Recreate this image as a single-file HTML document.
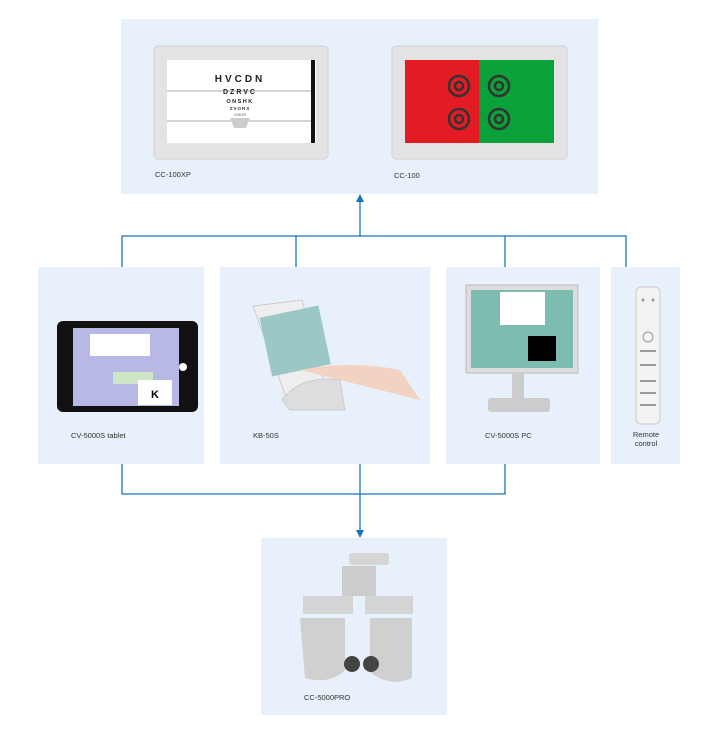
<!DOCTYPE html>
<html><head><meta charset="utf-8"><style>
html,body{margin:0;padding:0;background:#fff;width:719px;height:733px;overflow:hidden;position:relative;font-family:"Liberation Sans",sans-serif}
.b{position:absolute;background:#e8f1fb}
.t{position:absolute;font-size:7.5px;color:#333}
svg{position:absolute;left:0;top:0}
</style></head><body>
<div class="b" style="left:121px;top:19px;width:477px;height:175px"></div>
<div class="b" style="left:38px;top:267px;width:166px;height:197px"></div>
<div class="b" style="left:220px;top:267px;width:210px;height:197px"></div>
<div class="b" style="left:446px;top:267px;width:154px;height:197px"></div>
<div class="b" style="left:611px;top:267px;width:69px;height:197px"></div>
<div class="b" style="left:261px;top:538px;width:186px;height:177px"></div>

<svg width="719" height="733" viewBox="0 0 719 733">
<g stroke="#1a75bc" stroke-width="1.3" fill="none">
<path d="M122 267V236H626V267M296 236V267M505 236V267M360 236V200"/>
<path d="M122 464V494H505V464M360 464V531"/>
</g>
<path d="M356 202L360 194L364 202Z" fill="#1a75bc"/>
<path d="M356 530L360 538L364 530Z" fill="#1a75bc"/>

<rect x="154" y="46" width="174" height="113" rx="4" fill="#e3e3e3" stroke="#d0d0d0"/>
<rect x="167" y="60" width="149" height="83" fill="#fff"/>
<rect x="311" y="60" width="4" height="83" fill="#111"/>
<line x1="167" y1="91" x2="311" y2="91" stroke="#aaa"/><line x1="167" y1="121" x2="311" y2="121" stroke="#aaa"/>
<text x="240" y="82" font-size="10" font-weight="bold" text-anchor="middle" letter-spacing="3" fill="#222" font-family="Liberation Sans">HVCDN</text>
<text x="240" y="94" font-size="7" font-weight="bold" text-anchor="middle" letter-spacing="2" fill="#222" font-family="Liberation Sans">DZRVC</text>
<text x="240" y="103" font-size="5.5" font-weight="bold" text-anchor="middle" letter-spacing="1.5" fill="#222" font-family="Liberation Sans">ONSHK</text>
<text x="240" y="110" font-size="4.5" font-weight="bold" text-anchor="middle" letter-spacing="1" fill="#333" font-family="Liberation Sans">ZVORS</text>
<text x="240" y="116" font-size="3.5" text-anchor="middle" fill="#555" font-family="Liberation Sans">CDKZR</text>
<path d="M230 118H250L246 128H234Z" fill="#ccc"/>

<rect x="392" y="46" width="175" height="113" rx="4" fill="#e3e3e3" stroke="#d0d0d0"/>
<rect x="405" y="60" width="74" height="83" fill="#e31b23"/>
<rect x="479" y="60" width="75" height="83" fill="#0aa03a"/>
<g fill="none" stroke="#333" stroke-width="2.5">
<circle cx="459" cy="86" r="10"/><circle cx="459" cy="86" r="4"/><circle cx="459" cy="119" r="10"/><circle cx="459" cy="119" r="4"/>
<circle cx="499" cy="86" r="10"/><circle cx="499" cy="86" r="4"/><circle cx="499" cy="119" r="10"/><circle cx="499" cy="119" r="4"/>
</g>

<rect x="57" y="321" width="141" height="91" rx="6" fill="#111"/>
<rect x="73" y="328" width="106" height="78" fill="#b8b8e6"/>
<rect x="90" y="334" width="60" height="22" fill="#fff"/>
<rect x="113" y="372" width="40" height="12" fill="#cfe6c6"/>
<rect x="138" y="380" width="34" height="25" fill="#fff"/>
<text x="155" y="398" font-size="11" font-weight="bold" text-anchor="middle" font-family="Liberation Sans">K</text>
<circle cx="183" cy="367" r="4" fill="#fff"/>

<path d="M253 306L302 300L325 385L285 395Z" fill="#eee" stroke="#ccc"/>
<rect x="265" y="311" width="60" height="60" fill="#9cc7c7" transform="rotate(-12 295 340)"/>
<path d="M282 400Q300 375 340 380L345 410Q315 410 290 410Z" fill="#ddd" stroke="#ccc"/>
<path d="M300 370Q350 360 400 370L420 400L360 385Z" fill="#f2d3c2"/>

<rect x="466" y="285" width="112" height="88" fill="#ddd" stroke="#bbb"/>
<rect x="471" y="290" width="102" height="78" fill="#7cbcb1"/>
<rect x="528" y="336" width="28" height="25" fill="#000"/>
<rect x="500" y="292" width="45" height="33" fill="#fff"/>
<rect x="512" y="373" width="12" height="27" fill="#ccc"/>
<rect x="488" y="398" width="62" height="14" rx="3" fill="#ccc"/>

<rect x="636" y="287" width="24" height="137" rx="5" fill="#f3f3f3" stroke="#ccc"/>
<g fill="#999"><circle cx="643" cy="300" r="1.5"/><circle cx="653" cy="300" r="1.5"/><circle cx="648" cy="337" r="5" fill="none" stroke="#999"/>
<rect x="640" y="350" width="16" height="2"/><rect x="640" y="364" width="16" height="2"/><rect x="640" y="380" width="16" height="2"/><rect x="640" y="392" width="16" height="2"/><rect x="640" y="404" width="16" height="2"/></g>

<rect x="349" y="553" width="40" height="12" rx="3" fill="#d5d5d5"/>
<rect x="342" y="566" width="34" height="30" fill="#ccc"/>
<rect x="303" y="596" width="50" height="18" fill="#d4d4d4"/>
<rect x="365" y="596" width="48" height="18" fill="#d4d4d4"/>
<path d="M300 618H345V670Q330 685 305 678Z" fill="#d0d0d0"/>
<path d="M370 618H412V678Q390 688 370 672Z" fill="#d0d0d0"/>
<circle cx="352" cy="664" r="8" fill="#444"/><circle cx="371" cy="664" r="8" fill="#444"/>
</svg>

<div class="t" style="left:155px;top:170px">CC-100XP</div>
<div class="t" style="left:394px;top:171px">CC-100</div>
<div class="t" style="left:71px;top:431px">CV-5000S tablet</div>
<div class="t" style="left:253px;top:431px">KB-50S</div>
<div class="t" style="left:485px;top:431px">CV-5000S PC</div>
<div class="t" style="left:620px;top:430px;width:52px;text-align:center;line-height:9px">Remote<br>control</div>
<div class="t" style="left:304px;top:693px">CC-5000PRO</div>
</body></html>
